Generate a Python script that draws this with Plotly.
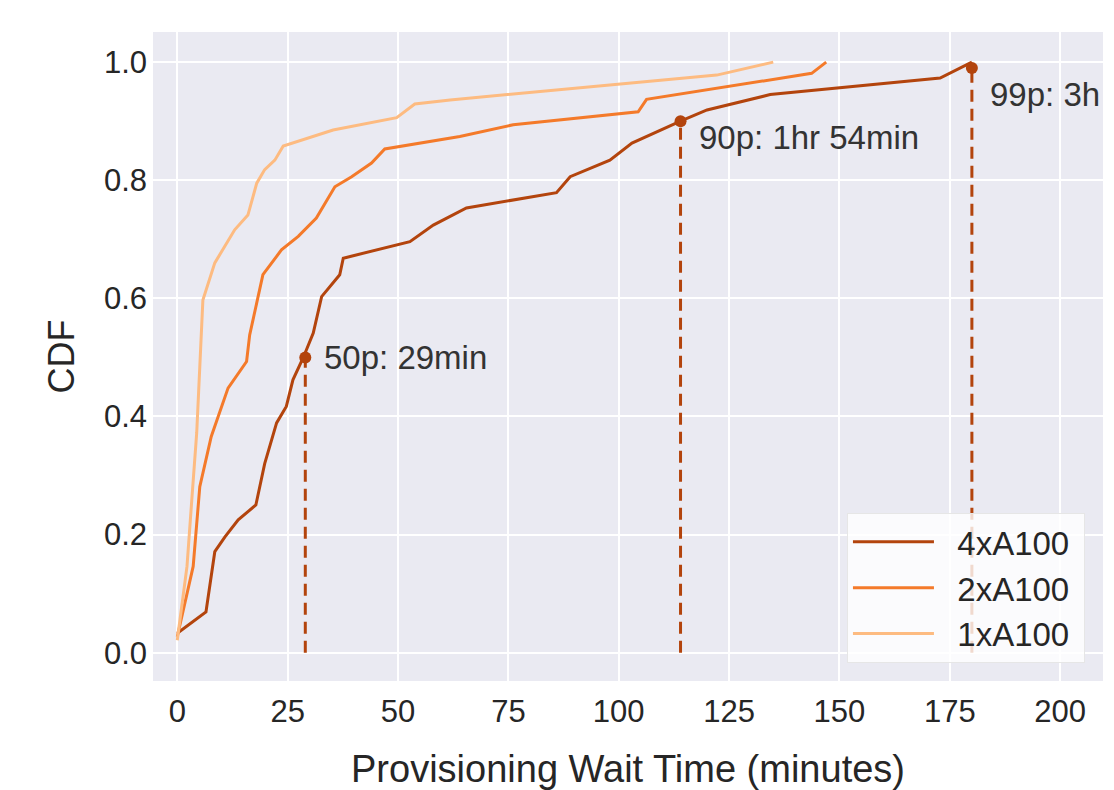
import plotly.graph_objects as go

# ---- data ----
series_names = ["4xA100", "2xA100", "1xA100"]

x_4x = [0, 6.5, 8.5, 10.8, 13.8, 17.8, 19.8, 22.5, 24.7, 26.2, 28.5, 30.8, 32.7,
        36.8, 37.6, 52.7, 58, 65.5, 85.9, 89, 98, 103, 114, 120, 134.3, 172.8, 180]
y_4x = [0.033, 0.069, 0.171, 0.196, 0.225, 0.25, 0.32, 0.389, 0.417, 0.462, 0.499, 0.541, 0.603,
        0.64, 0.668, 0.696, 0.724, 0.753, 0.779, 0.806, 0.834, 0.863, 0.9, 0.919, 0.945, 0.973, 1.0]

x_2x = [0, 3.6, 5.1, 7.7, 11.5, 15.7, 16.4, 19.4, 23.6, 27.4, 31.5, 35.7, 39.5, 44, 47,
        64, 76.1, 104.4, 106.3, 143.7, 147]
y_2x = [0.027, 0.146, 0.281, 0.366, 0.448, 0.493, 0.538, 0.64, 0.682, 0.705, 0.736, 0.789, 0.806,
        0.829, 0.853, 0.874, 0.894, 0.916, 0.937, 0.981, 1.0]

x_1x = [0, 2.2, 3.3, 4.4, 5.1, 5.8, 8.5, 13, 16, 18, 19.8, 22.1, 24, 35.3, 49.7, 53.8, 61.8, 122.2, 135]
y_1x = [0.021, 0.146, 0.26, 0.372, 0.484, 0.597, 0.66, 0.716, 0.741, 0.795, 0.818, 0.834, 0.858,
        0.885, 0.906, 0.929, 0.936, 0.978, 1.0]

pct_x = [29, 114, 180]
pct_y = [0.5, 0.9, 0.99]
pct_labels = ["50p: 29min", "90p: 1hr 54min", "99p: 3h"]
label_y = [0.5, 0.872, 0.945]

x_ticks = [0, 25, 50, 75, 100, 125, 150, 175, 200]
y_ticks = [0.0, 0.2, 0.4, 0.6, 0.8, 1.0]

# ---- styles ----
c_dark = "#b3440d"
c_mid = "#f47a2a"
c_light = "#fdbb81"
font_fam = "Liberation Sans, Arial, sans-serif"
txt = "#262626"

fig = go.Figure()

# percentile dashed drops
for px, py in zip(pct_x, pct_y):
    fig.add_trace(go.Scatter(x=[px, px], y=[0, py], mode="lines",
                             line=dict(color=c_dark, width=3, dash="12px,7px"),
                             showlegend=False, hoverinfo="skip"))

pre = "\u00a0\u00a0"
post = "\u00a0"
fig.add_trace(go.Scatter(x=x_4x, y=y_4x, mode="lines", name=pre + series_names[0] + post,
                         line=dict(color=c_dark, width=3)))
fig.add_trace(go.Scatter(x=x_2x, y=y_2x, mode="lines", name=pre + series_names[1] + post,
                         line=dict(color=c_mid, width=3)))
fig.add_trace(go.Scatter(x=x_1x, y=y_1x, mode="lines", name=pre + series_names[2] + post,
                         line=dict(color=c_light, width=3)))

fig.add_trace(go.Scatter(x=pct_x, y=pct_y, mode="markers",
                         marker=dict(color=c_dark, size=12),
                         showlegend=False, hoverinfo="skip"))

for px, ly, lab in zip(pct_x, label_y, pct_labels):
    fig.add_annotation(x=px + 3.7, y=ly, text=lab, showarrow=False,
                       xanchor="left", yanchor="middle",
                       font=dict(family=font_fam, size=33, color="#333333"))

fig.update_layout(
    width=1106, height=782, autosize=False,
    margin=dict(l=145, r=11, t=24, b=109),
    paper_bgcolor="white", plot_bgcolor="#EAEAF2",
    font=dict(family=font_fam, color=txt, size=31),
    legend=dict(x=0.981, y=0.028, xanchor="right", yanchor="bottom",
                bgcolor="rgba(255,255,255,0.8)", bordercolor="#e6e6e6", borderwidth=1,
                font=dict(size=33, color=txt), itemwidth=81),
    showlegend=True,
)
fig.update_xaxes(range=[-5.5, 209.7], tickvals=x_ticks, showgrid=True, gridcolor="white",
                 gridwidth=1.6, zeroline=False, showline=False, ticks="", automargin=False,
                 ticklabelstandoff=9, tickfont=dict(size=31, color=txt),
                 title=dict(text="Provisioning Wait Time (minutes)", standoff=42,
                            font=dict(size=38, color=txt)))
fig.update_yaxes(range=[-0.048, 1.051], tickvals=y_ticks, tickformat=".1f", showgrid=True,
                 gridcolor="white", gridwidth=1.6, zeroline=False, showline=False, ticks="",
                 automargin=False, ticklabelstandoff=5, tickfont=dict(size=31, color=txt),
                 title=dict(text="CDF", standoff=18, font=dict(size=36, color=txt)))

fig.write_html("out.html")
